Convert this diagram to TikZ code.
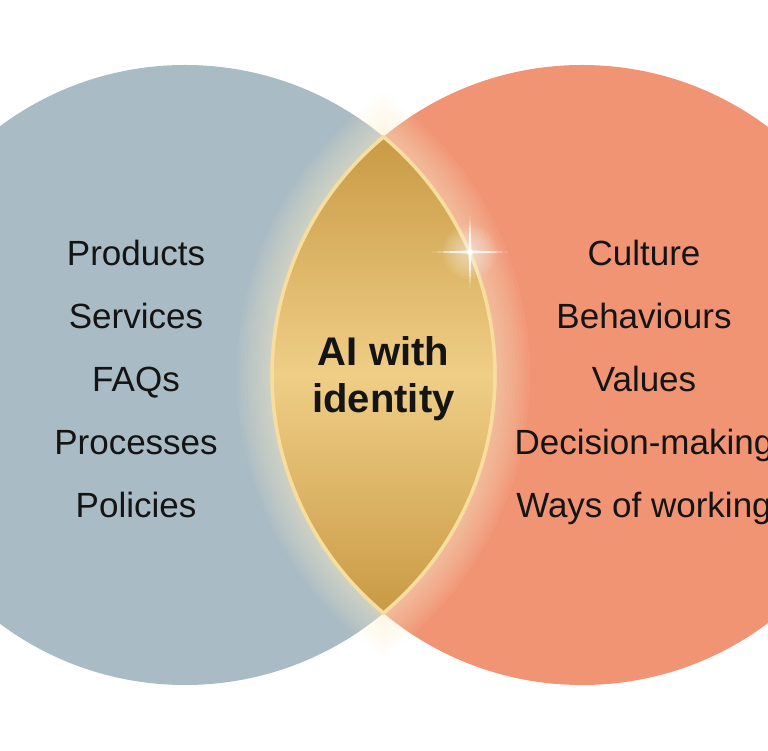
\documentclass[tikz,border=0pt]{standalone}
\usepackage{fontspec}
\setmainfont{Liberation Sans}
\usepackage{tikz}
\usetikzlibrary{calc}

\definecolor{leftblue}{HTML}{A9BBC4}
\definecolor{salmon}{HTML}{F19474}
\definecolor{halo}{HTML}{FFF1CF}
\definecolor{golddark}{HTML}{C99A45}
\definecolor{goldlight}{HTML}{EFCE86}
\definecolor{rim}{HTML}{F8DE9E}
\definecolor{ink}{HTML}{141414}

\begin{document}
\begin{tikzpicture}[x=1pt,y=1pt,
  item/.style={font=\fontsize{35}{40}\selectfont, text=ink, anchor=base, inner sep=0pt},
  core/.style={font=\bfseries\fontsize{40}{46}\selectfont, text=ink, anchor=base, inner sep=0pt}]
\useasboundingbox (0,0) rectangle (768,750);
\clip (0,0) rectangle (768,750);
\fill[white] (0,0) rectangle (768,750);
% Two overlapping circles: knowledge (left) and identity (right)
\def\R{310}
\coordinate (cl) at (185,375);
\coordinate (cr) at (582,375);
\fill[leftblue] (cl) circle[radius=\R];
\fill[salmon] (cr) circle[radius=\R];
% Lens shaped overlap
\def\lens{(383.5,613.1) arc[start angle=129.82, end angle=230.18, radius=\R]
  arc[start angle=-50.18, end angle=50.18, radius=\R] -- cycle}
% Soft glow round the lens
\foreach \w in {70,63,...,7} {
  \draw[line width=\w pt, halo, opacity=0.06] \lens;
}
\shade[top color=golddark, bottom color=golddark, middle color=goldlight] \lens;
\draw[rim, line width=3.5pt] \lens;
% Sparkle on the rim
\coordinate (spark) at (470,498);
\foreach \r in {3,6,...,27} {
  \fill[white, opacity=0.07] (spark) circle[radius=\r];
}
\fill[white, opacity=0.85] ($(spark)+(-38,0)$) -- ($(spark)+(0,1.6)$)
  -- ($(spark)+(38,0)$) -- ($(spark)+(0,-1.6)$) -- cycle;
\fill[white, opacity=0.85] ($(spark)+(0,-36)$) -- ($(spark)+(1.6,0)$)
  -- ($(spark)+(0,36)$) -- ($(spark)+(-1.6,0)$) -- cycle;
\fill[white] (spark) circle[radius=3];
% Left list
\foreach \t [count=\i] in {Products,Services,FAQs,Processes,Policies} {
  \node[item] (left\i) at (136,{484-63*(\i-1)}) {\t};
}
% Right list
\foreach \t [count=\i] in {Culture,Behaviours,Values,Decision-making,Ways of working} {
  \node[item] (right\i) at (644,{484-63*(\i-1)}) {\t};
}
% Centre label
\node[core] (core1) at (383.5,384) {AI with};
\node[core] (core2) at (383.5,337) {identity};
\end{tikzpicture}
\end{document}
